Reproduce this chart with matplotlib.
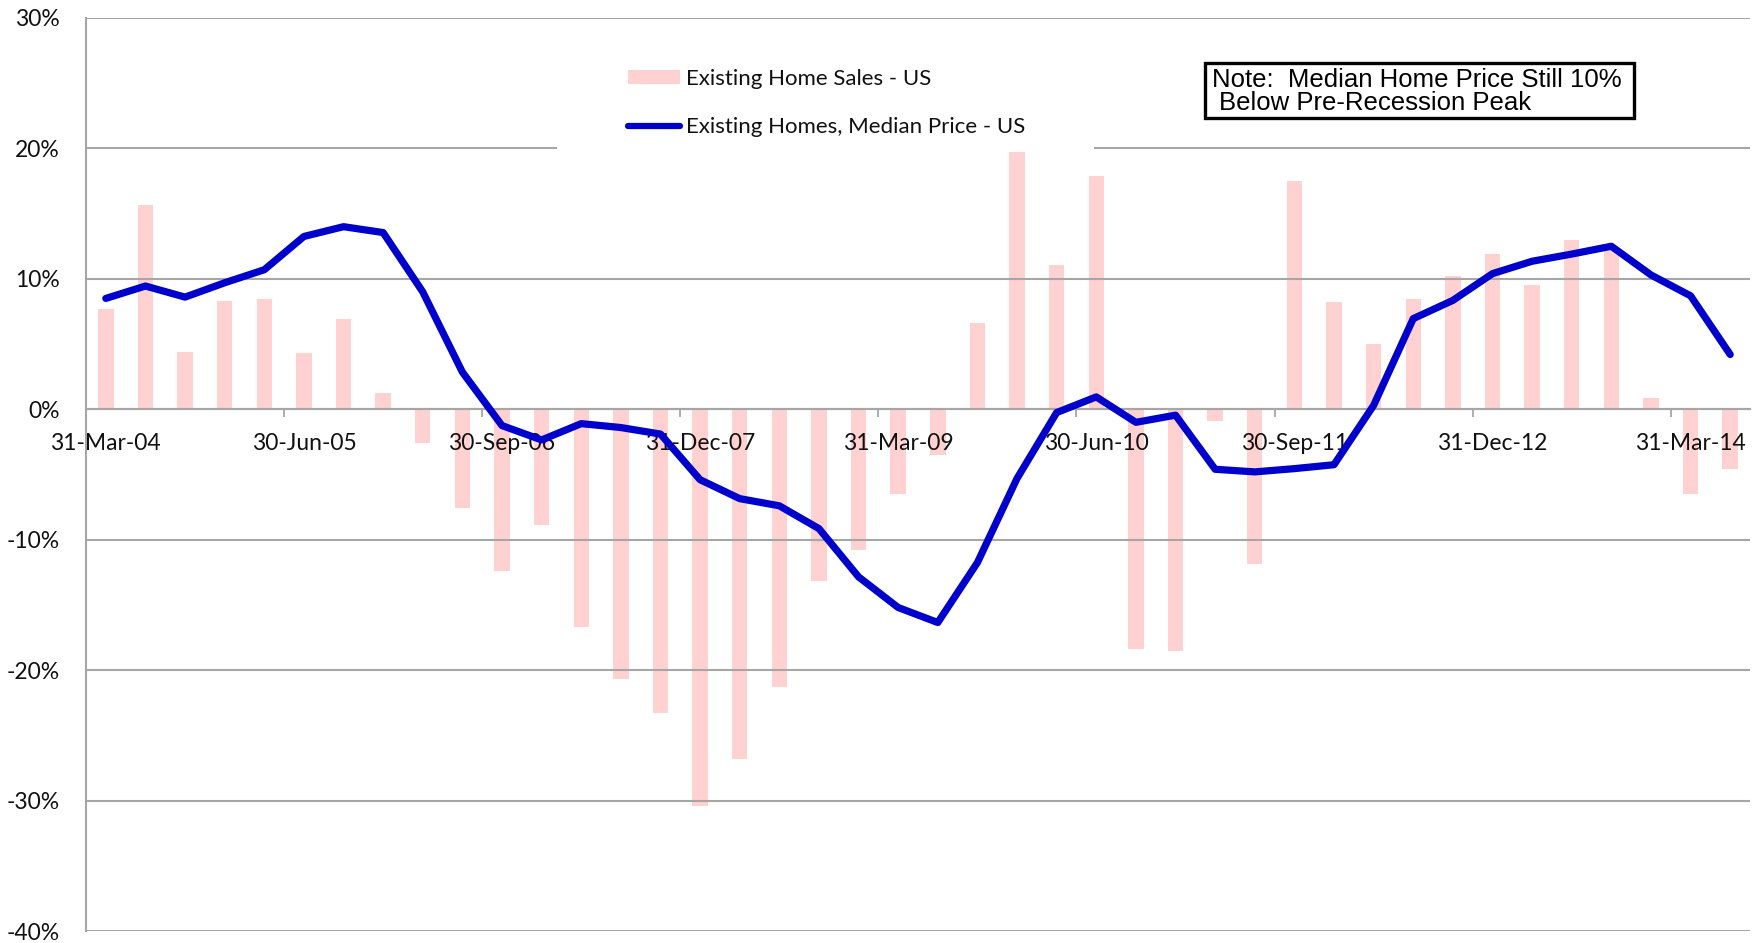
import matplotlib
matplotlib.use("Agg")
import matplotlib.pyplot as plt
import numpy as np
import pandas as pd
from matplotlib.patches import Rectangle, Patch
from matplotlib.lines import Line2D
from matplotlib.ticker import FixedLocator, FuncFormatter

# ---------------- data ----------------
quarters = pd.date_range("2004-03-31", periods=42, freq="QE")
quarter_labels = [d.strftime("%d-%b-%y") for d in quarters]

# Existing Home Sales - US, y/y % change
sales = [7.7, 15.7, 4.4, 8.3, 8.45, 4.3, 6.9, 1.25, -2.6, -7.6,
         -12.4, -8.9, -16.7, -20.7, -23.3, -30.4, -26.8, -21.3, -13.2, -10.8,
         -6.5, -3.5, 6.6, 19.7, 11.1, 17.9, -18.4, -18.5, -0.9, -11.9,
         17.5, 8.2, 5.0, 8.45, 10.2, 11.9, 9.55, 13.0, 12.3, 0.9,
         -6.5, -4.6]

# Existing Homes, Median Price - US, y/y % change
price = [8.5, 9.45, 8.6, 9.7, 10.7, 13.25, 14.0, 13.55, 9.0, 2.85,
         -1.25, -2.35, -1.1, -1.4, -1.9, -5.4, -6.85, -7.4, -9.15, -12.85,
         -15.2, -16.35, -11.75, -5.3, -0.25, 0.95, -1.0, -0.45, -4.6, -4.8,
         -4.55, -4.25, 0.3, 6.95, 8.35, 10.4, 11.35, 11.9, 12.5, 10.3,
         8.7, 4.2]

series_names = ["Existing Home Sales - US", "Existing Homes, Median Price - US"]
note_lines = ["Note:  Median Home Price Still 10%", "Below Pre-Recession Peak"]
y_ticks = [-40, -30, -20, -10, 0, 10, 20, 30]
label_every = 5

# ---------------- style ----------------
W, H, DPI = 1764, 943, 100
BAR_C = "#FFD1D1"
LINE_C = "#0000CC"
GRID_C = "#A6A6A6"
FONT = ["Lato", "DejaVu Sans"]
plt.rcParams["font.family"] = FONT

fig = plt.figure(figsize=(W / DPI, H / DPI), dpi=DPI)
fig.patch.set_facecolor("white")
ax = fig.add_axes([86 / W, 1 - 931 / H, 1664 / W, 913 / H])

x = np.arange(len(sales))
ax.bar(x, sales, width=0.39, color=BAR_C, zorder=1, linewidth=0)
ax.plot(x, price, color=LINE_C, lw=5.2, zorder=3,
        solid_joinstyle="round", solid_capstyle="round")

ax.set_xlim(-0.5, len(sales) - 0.5)
ax.set_ylim(-40, 30)

# y axis
ax.yaxis.set_major_locator(FixedLocator(y_ticks))
ax.yaxis.set_major_formatter(FuncFormatter(lambda v, p: f"{v:.0f}%"))
ax.yaxis.grid(True, color=GRID_C, lw=1.5)
ax.set_axisbelow(False)
ax.tick_params(axis="y", length=0, pad=19, labelsize=16.5, labelcolor="#111111")

# x axis (category axis crossing at 0)
label_pos = list(range(0, len(sales), label_every))
ax.set_xticks(label_pos)
ax.set_xticklabels([quarter_labels[i] for i in label_pos])
ax.set_xticks([p - 0.5 for p in label_pos[1:]], minor=True)
ax.tick_params(axis="x", which="major", length=0, pad=17, labelsize=16.5,
               labelcolor="#111111")
ax.tick_params(axis="x", which="minor", length=6, width=1.3, color=GRID_C,
               direction="out")

for s in ["top", "right"]:
    ax.spines[s].set_visible(False)
ax.spines["left"].set_color(GRID_C)
ax.spines["left"].set_linewidth(1.5)
ax.spines["bottom"].set_position(("data", 0))
ax.spines["bottom"].set_color(GRID_C)
ax.spines["bottom"].set_linewidth(1.5)

# white gap in the 20% gridline behind the legend
gap = Rectangle((557 / W, 1 - 151 / H), (1094 - 557) / W, 6 / H,
                transform=fig.transFigure, facecolor="white",
                edgecolor="none", zorder=2.6)
ax.add_artist(gap)
gap.set_clip_on(False)

# legend
handles = [Patch(facecolor=BAR_C, edgecolor="none"),
           Line2D([], [], color=LINE_C, lw=4.5, solid_capstyle="round")]
leg = ax.legend(handles, series_names, loc="upper left",
                bbox_to_anchor=(628 / W, 1 - 69 / H),
                bbox_transform=fig.transFigure, frameon=False, fontsize=16,
                handlelength=2.35, handleheight=0.6, handletextpad=0.27,
                labelspacing=1.27, borderpad=0, borderaxespad=0)
for t in leg.get_texts():
    t.set_color("#111111")

# note box
box = Rectangle((1205 / W, 1 - 118 / H), 429 / W, 55 / H,
                transform=fig.transFigure, facecolor="white",
                edgecolor="black", lw=2.4, zorder=5)
fig.add_artist(box)
fig.text(1212 / W, 1 - 80 / H, note_lines[0], ha="left", va="center",
         family=["Liberation Sans", "DejaVu Sans"], fontsize=18.5, zorder=6)
fig.text(1219 / W, 1 - 103 / H, note_lines[1], ha="left", va="center",
         family=["Liberation Sans", "DejaVu Sans"], fontsize=18.5, zorder=6)

fig.savefig("out.png", dpi=DPI, facecolor="white")
